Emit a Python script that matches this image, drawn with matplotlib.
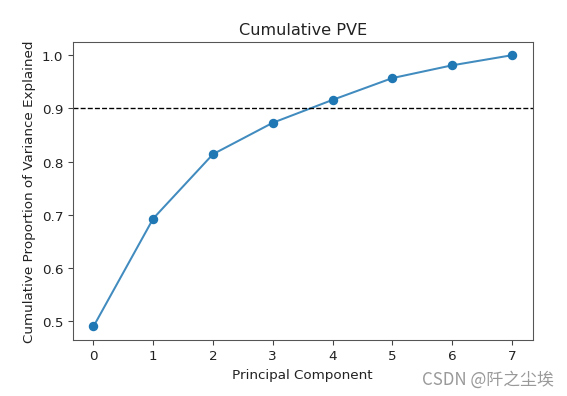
import matplotlib
matplotlib.use("Agg")
import matplotlib.pyplot as plt
import numpy as np

components = [0, 1, 2, 3, 4, 5, 6, 7]
cum_pve = [0.490, 0.693, 0.814, 0.873, 0.916, 0.957, 0.981, 1.000]
threshold = 0.9

DPI = 97
fig = plt.figure(figsize=(567 / DPI, 397 / DPI), dpi=DPI)
ax = fig.add_axes([0.128, 0.141, 0.8115, 0.7515])

ax.plot(components, cum_pve, color="#1f77b4", lw=1.5, alpha=0.85)
ax.scatter(components, cum_pve, color="#1f77b4", s=36, zorder=3)
ax.axhline(threshold, color="black", ls="--", lw=1)

ax.set_title("Cumulative PVE", fontsize=12, color="#222222")
ax.set_xlabel("Principal Component", fontsize=10, color="#222222")
ax.set_ylabel("Cumulative Proportion of Variance Explained", fontsize=10, color="#222222")
ax.set_xticks(components)
ax.set_yticks(np.arange(0.5, 1.01, 0.1))
ax.tick_params(labelsize=10, labelcolor="#222222", color="#444444")
for s in ax.spines.values():
    s.set_color("#555555")

fig.text(0.976, 0.02, "CSDN @阡之尘埃", ha="right", va="bottom", fontsize=12.5,
         color="#999999", family=["Noto Sans CJK SC", "DejaVu Sans"])

fig.savefig("out.png", dpi=DPI)
